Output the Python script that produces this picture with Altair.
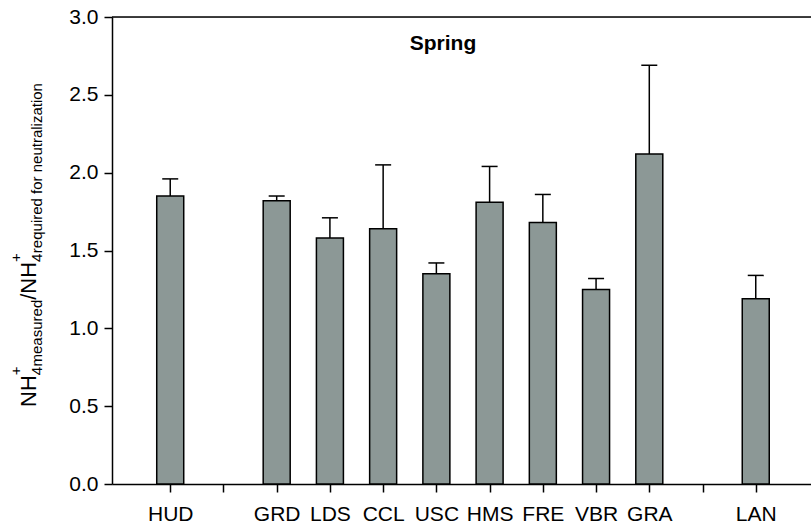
import altair as alt
import pandas as pd

# Axis slots (blank slots keep a tick but no label)
slot_labels = ["HUD", "", "GRD", "LDS", "CCL", "USC", "HMS", "FRE", "VBR", "GRA", "", "LAN"]
sites = ["HUD", "GRD", "LDS", "CCL", "USC", "HMS", "FRE", "VBR", "GRA", "LAN"]
ratio = [1.85, 1.82, 1.58, 1.64, 1.35, 1.81, 1.68, 1.25, 2.12, 1.19]
err_top = [1.96, 1.85, 1.71, 2.05, 1.42, 2.04, 1.86, 1.32, 2.69, 1.34]

slot_of = {lab: i + 1 for i, lab in enumerate(slot_labels) if lab}
df = pd.DataFrame({
    "site": sites,
    "slot": [slot_of[s] for s in sites],
    "ratio": ratio,
    "err": err_top,
})

W, H = 699, 467
FONT = "Liberation Sans"
label_arr = "[" + ",".join("'" + s + "'" for s in [""] + slot_labels) + "]"

xscale = alt.Scale(domain=[0, 12.944], nice=False, zero=False)
yscale = alt.Scale(domain=[0, 3], nice=False)

x_axis = alt.Axis(
    values=list(range(1, len(slot_labels) + 1)),
    labelExpr=label_arr + "[datum.value]",
    title=None, grid=False, tickSize=8, tickWidth=1.5, tickColor="black",
    domainColor="black", domainWidth=1.5, labelFont=FONT, labelFontSize=21,
    labelColor="black", labelPadding=11, labelFlush=False,
)
y_axis = alt.Axis(
    values=[0, 0.5, 1.0, 1.5, 2.0, 2.5, 3.0], format=".1f",
    title=None, grid=False, tickSize=8, tickWidth=1.5, tickColor="black",
    domainColor="black", domainWidth=1.5, labelFont=FONT, labelFontSize=21,
    labelColor="black", labelPadding=6, labelFlush=False,
)

base = alt.Chart(df)

bars = base.mark_bar(size=27, color="#8C9896", stroke="black", strokeWidth=1.5).encode(
    x=alt.X("slot:Q", scale=xscale, axis=x_axis),
    y=alt.Y("ratio:Q", scale=yscale, axis=y_axis),
    y2=alt.Y2(datum=0),
)
stems = base.mark_rule(color="black", strokeWidth=1.5).encode(
    x="slot:Q", y="ratio:Q", y2="err:Q"
)
caps = base.mark_rule(color="black", strokeWidth=1.5, xOffset=-8, x2Offset=8).encode(
    x="slot:Q", x2="slot:Q", y="err:Q"
)
top_line = alt.Chart(pd.DataFrame({"a": [0]})).mark_rule(color="black", strokeWidth=1.5).encode(
    x=alt.value(0), x2=alt.value(W), y=alt.value(0)
)

title = alt.Chart(pd.DataFrame({"t": ["Spring"]})).mark_text(
    font=FONT, fontSize=21, fontWeight="bold", align="center", baseline="alphabetic", color="black"
).encode(text="t:N", x=alt.value(331), y=alt.value(33))

# Y-axis title with sub/superscripts, built from rotated text runs
F, f = 22, 15
bx, by = -76, 390
runs = [
    ("NH", F, 0, 1.444 * F),
    ("4", f, 6, 0.0),
    ("+", f, -15, 0.584 * f),
    ("measured", f, 6, 4.446 * f),
    ("/NH", F, 0, 1.722 * F),
    ("4", f, 6, 0.0),
    ("+", f, -15, 0.584 * f),
    ("required for neutralization", f, 6, 11.338 * f),
]
ytitle_layers = []
pos = 0.0
for txt, size, shift, adv in runs:
    ytitle_layers.append(
        alt.Chart(pd.DataFrame({"t": [txt]})).mark_text(
            font=FONT, fontSize=size, angle=270, align="left", baseline="alphabetic", color="black"
        ).encode(text="t:N", x=alt.value(bx + shift), y=alt.value(by - pos))
    )
    pos += adv

chart = alt.layer(bars, stems, caps, top_line, title, *ytitle_layers).properties(
    width=W, height=H,
    autosize=alt.AutoSizeParams(type="none"),
    padding={"left": 112, "top": 17, "right": 0, "bottom": 44},
).configure_view(stroke=None).configure(background="white")

chart.save("out.html", embed_options={"renderer": "svg", "actions": False})
